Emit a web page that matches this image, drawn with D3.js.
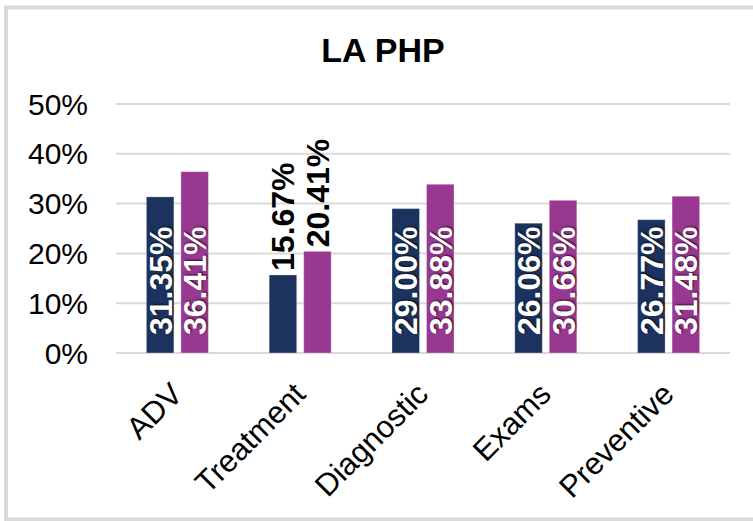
<!DOCTYPE html>
<html>
<head>
<meta charset="utf-8">
<script src="https://cdn.jsdelivr.net/npm/d3@7"></script>
<style>
 body{margin:0;background:#fff;}
 text{font-family:"Liberation Sans",Arial,sans-serif;}
 .inlbl{text-shadow:1px 1px 2px rgba(0,0,0,0.7);}
</style>
</head>
<body>
<div id="chart"></div>
<script>
var categories = ["ADV","Treatment","Diagnostic","Exams","Preventive"];
var series1 = [31.35, 15.67, 29.00, 26.06, 26.77];
var series2 = [36.41, 20.41, 33.88, 30.66, 31.48];
var yTicks = [0,10,20,30,40,50];
var colors = ["#1b335e","#993891"];

var width = 753, height = 521;
var svg = d3.select("#chart").append("svg")
  .attr("width", width).attr("height", height);

// frame
svg.append("rect")
  .attr("x", 6).attr("y", 7.5).attr("width", 770).attr("height", 512)
  .attr("fill", "none").attr("stroke", "#d9d9d9").attr("stroke-width", 4);

svg.append("text")
  .attr("x", 383).attr("y", 62)
  .attr("text-anchor", "middle")
  .style("font-size", "34px").style("font-weight", "bold")
  .text("LA PHP");

var x = d3.scaleBand().domain(categories).range([116, 730]).padding(0);
var y = d3.scaleLinear().domain([0, 50]).range([353, 104]);

// gridlines
svg.selectAll("line.grid")
  .data(yTicks)
  .enter().append("line")
  .attr("x1", 116).attr("x2", 730)
  .attr("y1", function(d){ return y(d); })
  .attr("y2", function(d){ return y(d); })
  .attr("stroke", "#d9d9d9").attr("stroke-width", 2);

svg.selectAll("text.ytick")
  .data(yTicks)
  .enter().append("text")
  .attr("x", 88)
  .attr("y", function(d){ return y(d) + 10.5; })
  .attr("text-anchor", "end")
  .style("font-size", "30px")
  .text(function(d){ return d + "%"; });

var bw = x.bandwidth() * 0.224, gap = x.bandwidth() * 0.057;
var data = [];
categories.forEach(function(c, i){
  data.push({cat: c, s: 0, v: series1[i]});
  data.push({cat: c, s: 1, v: series2[i]});
});
function bx(d){
  var c = x(d.cat) + x.bandwidth() / 2;
  return d.s == 0 ? c - gap / 2 - bw : c + gap / 2;
}

svg.selectAll("rect.bar")
  .data(data)
  .enter().append("rect")
  .attr("x", bx)
  .attr("y", function(d){ return y(d.v); })
  .attr("width", bw)
  .attr("height", function(d){ return y(0) - y(d.v); })
  .attr("fill", function(d){ return colors[d.s]; })
  .attr("stroke", "#fff").attr("stroke-opacity", 0.3).attr("stroke-width", 1);

// value labels
svg.selectAll("text.val")
  .data(data)
  .enter().append("text")
  .attr("class", function(d){ return d.v > 25 ? "inlbl" : ""; })
  .attr("transform", function(d){
    var cx = bx(d) + bw / 2 + 11.5;
    var cy = d.v > 25 ? y(0) - 18 : y(d.v) - 4;
    return "translate(" + cx + "," + cy + ") rotate(-90)";
  })
  .attr("fill", function(d){ return d.v > 25 ? "#fff" : "#000"; })
  .style("font-size", "32px").style("font-weight", "bold")
  .text(function(d){ return d.v.toFixed(2) + "%"; });

// category labels
svg.selectAll("text.cat")
  .data(categories)
  .enter().append("text")
  .attr("transform", function(d){
    return "translate(" + (x(d) + x.bandwidth() / 2 + 7) + ",396) rotate(-45)";
  })
  .attr("text-anchor", "end")
  .style("font-size", "31px")
  .text(function(d){ return d; });
</script>
</body>
</html>
